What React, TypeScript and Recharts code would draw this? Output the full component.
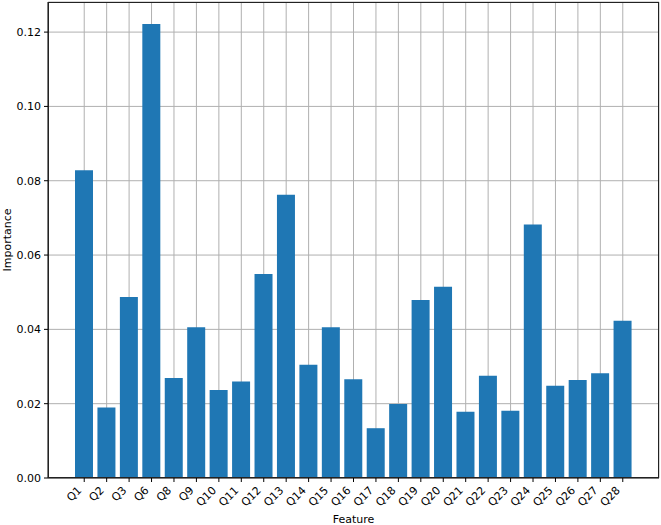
import { BarChart, Bar, XAxis, YAxis, CartesianGrid } from 'recharts';

const features = [
  'Q1', 'Q2', 'Q3', 'Q6', 'Q8', 'Q9', 'Q10', 'Q11', 'Q12', 'Q13', 'Q14', 'Q15', 'Q16',
  'Q17', 'Q18', 'Q19', 'Q20', 'Q21', 'Q22', 'Q23', 'Q24', 'Q25', 'Q26', 'Q27', 'Q28',
];

const importance = [
  0.0828, 0.019, 0.0487, 0.1222, 0.0269, 0.0406, 0.0237, 0.026, 0.0549, 0.0762, 0.0305, 0.0406, 0.0266,
  0.0134, 0.0199, 0.0479, 0.0515, 0.0178, 0.0275, 0.0181, 0.0682, 0.0248, 0.0264, 0.0282, 0.0423,
];

const yTicks = [0, 0.02, 0.04, 0.06, 0.08, 0.1, 0.12];

const chartData = features.map((f, i) => ({ feature: f, importance: importance[i] }));

const FONT = '"DejaVu Sans", sans-serif';

// matplotlib-style rotated label: right end of the baseline sits just left/below the tick
function RotatedTick({ x, y, payload }: any) {
  return (
    <g transform={`translate(${x - 2},${y + 7})`}>
      <text textAnchor="end" transform="rotate(-45)" fontSize={11} fontFamily={FONT} fill="#000">
        {payload.value}
      </text>
    </g>
  );
}

function YLabel({ viewBox }: any) {
  const cy = viewBox.y + viewBox.height / 2;
  return (
    <text
      x={11}
      y={cy}
      transform={`rotate(-90, 11, ${cy})`}
      textAnchor="middle"
      fontSize={11}
      fontFamily={FONT}
      fill="#000"
    >
      Importance
    </text>
  );
}

export default function App() {
  return (
    <div style={{ position: 'absolute', left: 0, top: 0, width: 661, height: 525, background: '#fff' }}>
      <BarChart
        width={661}
        height={525}
        data={chartData}
        margin={{ top: 2, right: 2, left: 0, bottom: 0 }}
        barCategoryGap={0}
      >
        <XAxis
          dataKey="feature"
          interval={0}
          height={47}
          padding={{ left: 25, right: 25 }}
          tick={<RotatedTick />}
          tickSize={4}
          tickLine={{ stroke: '#000' }}
          axisLine={{ stroke: '#222' }}
          label={{ value: 'Feature', position: 'insideBottom', offset: 2, fontSize: 11, fontFamily: FONT, fill: '#000' }}
        />
        <YAxis
          width={48}
          domain={[0, 0.1281]}
          ticks={yTicks}
          tickFormatter={(v: number) => v.toFixed(2)}
          tick={{ fontSize: 11, fontFamily: FONT, fill: '#000' }}
          tickSize={4}
          tickMargin={3}
          tickLine={{ stroke: '#000' }}
          axisLine={{ stroke: '#222' }}
          allowDataOverflow
          label={<YLabel />}
        />
        <Bar dataKey="importance" fill="#1f77b4" barSize={18} isAnimationActive={false} />
        {/* grid drawn after the bars so it shows on top, as in the original */}
        <CartesianGrid stroke="#b0b0b0" strokeWidth={1} />
      </BarChart>
      <div
        style={{
          position: 'absolute',
          left: 48,
          top: 2,
          width: 611,
          height: 476,
          border: '1px solid #222',
          boxSizing: 'border-box',
          pointerEvents: 'none',
        }}
      />
    </div>
  );
}
